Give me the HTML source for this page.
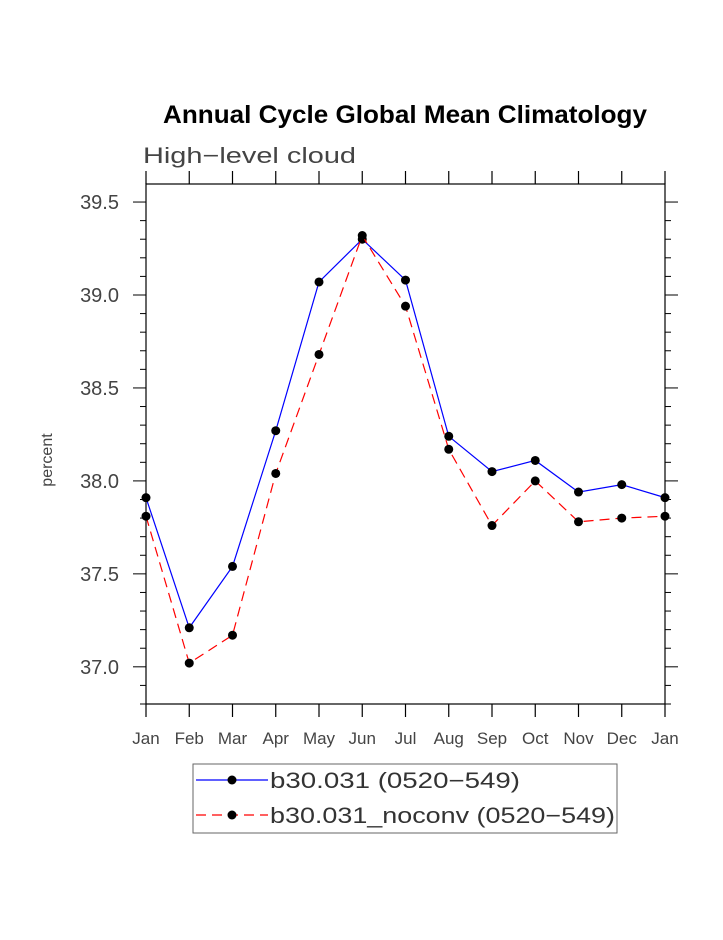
<!DOCTYPE html>
<html><head><meta charset="utf-8"><style>
body{margin:0;background:#fff;}
svg text{font-family:"Liberation Sans",sans-serif;}
</style></head><body>
<svg id="chart" width="723" height="935" xmlns="http://www.w3.org/2000/svg">
<text x="163" y="123" font-size="25" font-weight="bold" textLength="484" lengthAdjust="spacingAndGlyphs">Annual Cycle Global Mean Climatology</text>
<text x="143" y="163" font-size="22" fill="#444" font-weight="300" textLength="213" lengthAdjust="spacingAndGlyphs">High−level cloud</text>
<text transform="translate(52,460) rotate(-90)" text-anchor="middle" font-size="16" fill="#444">percent</text>
<g id="axes"></g>
<g id="series"></g>
<g>
<rect x="193" y="764" width="424" height="69" fill="none" stroke="#666" stroke-width="1"/>
<g>
<line x1="196" y1="780" x2="268" y2="780" stroke="#00f" stroke-width="1.2"/>
<circle cx="232" cy="780" r="4.5" fill="#000"/>
<text x="270" y="788" font-size="22" fill="#333" textLength="250" lengthAdjust="spacingAndGlyphs">b30.031 (0520−549)</text>
</g>
<g>
<line x1="196" y1="815" x2="268" y2="815" stroke="#f00" stroke-width="1.2" stroke-dasharray="10,6"/>
<circle cx="232" cy="815" r="4.5" fill="#000"/>
<text x="270" y="823" font-size="22" fill="#333" textLength="345" lengthAdjust="spacingAndGlyphs">b30.031_noconv (0520−549)</text>
</g>
</g>
</svg>
<script>
const months=["Jan","Feb","Mar","Apr","May","Jun","Jul","Aug","Sep","Oct","Nov","Dec","Jan"];
const yTicks=[37.0,37.5,38.0,38.5,39.0,39.5];
const seriesBase=[37.91,37.21,37.54,38.27,39.07,39.30,39.08,38.24,38.05,38.11,37.94,37.98,37.91];
const seriesNoconv=[37.81,37.02,37.17,38.04,38.68,39.32,38.94,38.17,37.76,38.00,37.78,37.80,37.81];
const L=146,R=665,T=184,B=704,YMIN=36.8,YMAX=39.597;
const NS="http://www.w3.org/2000/svg";
function xs(i){return L+(R-L)*i/(months.length-1);}
function ys(v){return B-(v-YMIN)/(YMAX-YMIN)*(B-T);}
function mk(tag,attrs,parent){const e=document.createElementNS(NS,tag);for(const k in attrs)e.setAttribute(k,attrs[k]);parent.appendChild(e);return e;}
const ax=document.getElementById('axes');
const frame=mk('rect',{x:L,y:T,width:R-L,height:B-T,fill:'none',stroke:'#000','stroke-width':1.2},ax);


months.forEach((m,i)=>{const x=xs(i);
 const t1=mk('line',{x1:x,y1:B,x2:x,y2:B+13,stroke:'#000','stroke-width':1.2},ax);
 
 
 const t2=mk('line',{x1:x,y1:T,x2:x,y2:T-13,stroke:'#000','stroke-width':1.2},ax);
 
 
 const tx=mk('text',{x:x,y:744,'text-anchor':'middle','font-size':17,fill:'#444'},ax);tx.textContent=m;
 
 
});
for(let k=0;k<=28;k++){const v=36.8+k*0.1;if(v>YMAX)break;const y=ys(v);
 const major=Math.abs(v*2-Math.round(v*2))<1e-6;const len=major?13:6;
 const a=mk('line',{x1:L,y1:y,x2:L-len,y2:y,stroke:'#000','stroke-width':1},ax);
 
 
 const b=mk('line',{x1:R,y1:y,x2:R+len,y2:y,stroke:'#000','stroke-width':1},ax);
 
 
}
yTicks.forEach(v=>{const t=mk('text',{x:119,y:ys(v)+7,'text-anchor':'end','font-size':20,fill:'#444'},ax);t.textContent=v.toFixed(1);
 
 
});
const sg=document.getElementById('series');
function draw(vals,color,dash,name){
 const pts=vals.map((v,i)=>xs(i)+','+ys(v)).join(' ');
 const pl=mk('polyline',{points:pts,fill:'none',stroke:color,'stroke-width':1.2},sg);
 if(dash)pl.setAttribute('stroke-dasharray',dash);
 
 
 vals.forEach((v,i)=>{const c=mk('circle',{cx:xs(i),cy:ys(v),r:4.5,fill:'#000'},sg);
  
  });
}
draw(seriesBase,'#00f',null,'b30-031');
draw(seriesNoconv,'#f00','10,6','b30-031-noconv');
</script>
</body></html>
